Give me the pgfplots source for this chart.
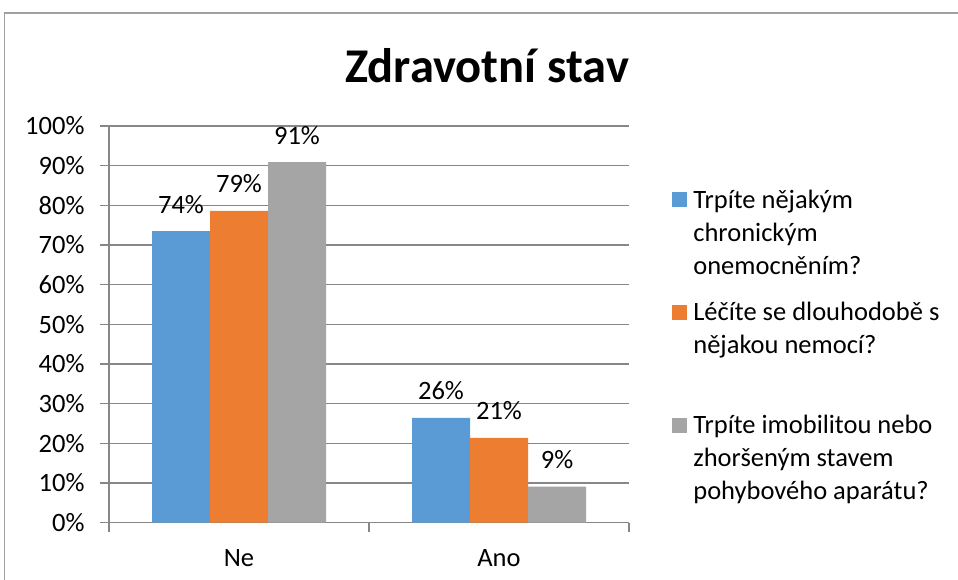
\documentclass[border=0pt]{standalone}
\usepackage{pgfplots}
\pgfplotsset{compat=1.18}
\usepackage{fontspec}
\setmainfont{Carlito}
\definecolor{cblue}{HTML}{5B9BD5}
\definecolor{corange}{HTML}{ED7D31}
\definecolor{cgray}{HTML}{A5A5A5}
\definecolor{gridc}{HTML}{878787}
\definecolor{framec}{HTML}{A0A0A0}
\begin{document}
\begin{tikzpicture}[x=1bp,y=1bp]
\path[use as bounding box] (0,0) rectangle (958,580);
\draw[color=framec, line width=1.5bp] (4.5,0) -- (4.5,567) -- (958,567);
\node[font=\fontsize{48.5bp}{56bp}\selectfont\bfseries, anchor=base, inner sep=0pt] at (487,497) {Zdravotní stav};
\begin{axis}[
  at={(109bp,57.3bp)}, anchor=south west,
  scale only axis, width=520bp, height=396.7bp,
  xmin=-0.5, xmax=1.5, ymin=0, ymax=100,
  ybar=0pt, bar width=58bp,
  xtick={-0.5,0.5,1.5}, xticklabels={},
  extra x ticks={0,1}, extra x tick labels={Ne,Ano},
  extra x tick style={major tick length=0pt},
  ytick={0,10,...,100},
  yticklabel={\pgfmathprintnumber{\tick}\%},
  /pgf/number format/assume math mode=true,
  ymajorgrids, grid style={gridc, line width=1.2bp},
  axis x line*=bottom, axis y line*=left,
  axis line style={gridc, line width=1.2bp},
  tick style={gridc, line width=1.2bp},
  tick align=outside,
  major tick length=9bp,
  ticklabel style={font=\fontsize{26.5bp}{30bp}\selectfont, text=black},
  yticklabel style={xshift=-12bp},
  xticklabel style={yshift=-23bp},
  nodes near coords,
  point meta=explicit symbolic,
  every node near coord/.append style={font=\fontsize{26.5bp}{30bp}\selectfont, anchor=base, yshift=18bp, text=black},
  legend style={at={(1.083,0.84)}, anchor=north west, draw=none, fill=none,
    font=\fontsize{26.5bp}{33bp}\selectfont, inner sep=0pt,
    nodes={inner sep=0pt}, column sep=6bp, row sep=27bp,
    cells={anchor=west, align=left}},
  legend image code/.code={\path[fill=none,draw=none] (0,-40.5bp) rectangle (15bp,40.5bp);\fill[#1] (0,25.5bp) rectangle (15bp,40.5bp);},
]
\addplot[fill=cblue, draw=none] coordinates {(0,73.5) [74\%] (1,26.4) [26\%]};
\addplot[fill=corange, draw=none] coordinates {(0,78.6) [79\%] (1,21.4) [21\%]};
\addplot[fill=cgray, draw=none] coordinates {(0,90.9) [91\%] (1,9.1) [9\%]};
\legend{{Trpíte nějakým\\chronickým\\onemocněním?},{Léčíte se dlouhodobě s\\nějakou nemocí?\\\mbox{}},{Trpíte imobilitou nebo\\zhoršeným stavem\\pohybového aparátu?}}
\end{axis}
\end{tikzpicture}
\end{document}
